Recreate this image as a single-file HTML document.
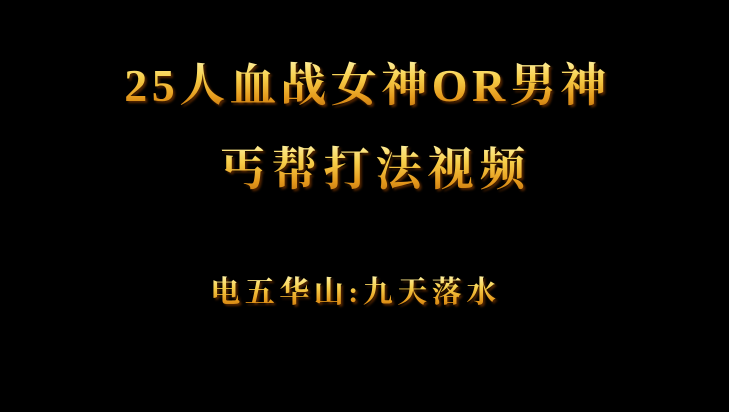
<!DOCTYPE html>
<html>
<head>
<meta charset="utf-8">
<style>
  html,body{margin:0;padding:0;background:#000;}
  body{width:729px;height:412px;position:relative;overflow:hidden;}
  .t{position:absolute;width:729px;text-align:center;white-space:nowrap;
     font-family:"Liberation Serif","Noto Serif CJK SC",serif;font-weight:bold;
     color:#f2b830;
     background:linear-gradient(to bottom,#fff3a8 0%,#f7cf4a 35%,#e59a1c 70%,#b86a0c 100%);
     -webkit-background-clip:text;background-clip:text;-webkit-text-fill-color:transparent;
     filter:drop-shadow(2px 2px 1px rgba(90,40,0,0.9));}
  #l1{left:3px;top:58px;font-size:46px;line-height:56px;letter-spacing:4.5px;}
  #l2{left:11px;top:142px;font-size:46px;line-height:56px;letter-spacing:6px;}
  #l3{left:-9px;top:275px;font-size:30px;line-height:36px;letter-spacing:4.5px;}
</style>
</head>
<body>
  <div id="l1" class="t">25人血战女神OR男神</div>
  <div id="l2" class="t">丐帮打法视频</div>
  <div id="l3" class="t">电五华山:九天落水</div>
</body>
</html>
